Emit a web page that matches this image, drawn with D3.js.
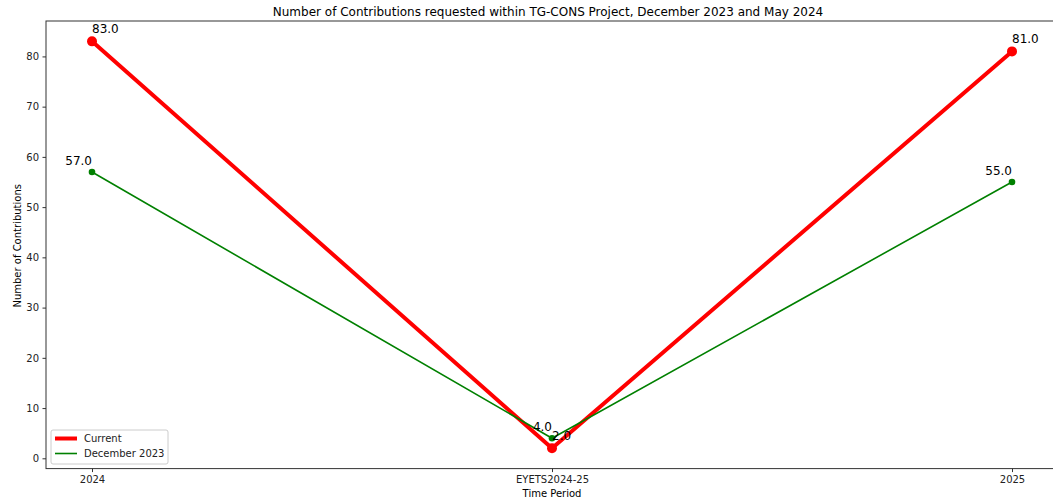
<!DOCTYPE html>
<html><head><meta charset="utf-8">
<script src="https://cdn.jsdelivr.net/npm/d3@7"></script>
<style>body{margin:0;background:#fff;} svg{display:block;font-family:"DejaVu Sans",sans-serif;}</style>
</head><body><svg id="c" width="1053" height="500"></svg>
<script>
const categories = ["2024", "EYETS2024-25", "2025"];
const currentValues = [83, 2, 81];
const dec2023Values = [57, 4, 55];
const yTicks = [0, 10, 20, 30, 40, 50, 60, 70, 80];
const seriesNames = ["Current", "December 2023"];
const titleText = "Number of Contributions requested within TG-CONS Project, December 2023 and May 2024";

const svg = d3.select("#c");
const L = 46, R = 1058, T = 21, B = 468.6;
const x = d3.scaleLinear().domain([-0.1, 2.1]).range([L, R]);
const y = d3.scaleLinear().domain([-2.05, 87.05]).range([B, T]);

// frame
svg.append("rect").attr("x", L).attr("y", T).attr("width", R - L).attr("height", B - T)
  .attr("fill", "none").attr("stroke", "#333").attr("stroke-width", 1);

// axes
const xAxis = d3.axisBottom(x).tickValues([0,1,2]).tickFormat(i => categories[i]).tickSize(3.5).tickPadding(3.5);
const gx = svg.append("g").attr("transform", `translate(0,${B})`).call(xAxis);
const yAxis = d3.axisLeft(y).tickValues(yTicks).tickSize(3.5).tickPadding(3.5);
const gy = svg.append("g").attr("transform", `translate(${L},0)`).call(yAxis);
[gx, gy].forEach(g => {
  g.select(".domain").remove();
  g.selectAll("text").attr("font-size", 10).attr("fill", "#222").attr("font-family", "DejaVu Sans");
  g.selectAll("line").attr("stroke", "#333");
});

// title and labels
svg.append("text").attr("x", (L + R) / 2 - 4).attr("y", 16).attr("text-anchor", "middle")
  .attr("font-size", 12).attr("fill", "#000").text(titleText);
svg.append("text").attr("x", x(1)).attr("y", 497).attr("text-anchor", "middle")
  .attr("font-size", 10).attr("fill", "#000").text("Time Period");
svg.append("text").attr("transform", `translate(20.5,${(T + B) / 2 + 1}) rotate(-90)`).attr("text-anchor", "middle")
  .attr("font-size", 10).attr("fill", "#000").text("Number of Contributions");

const line = d3.line().x((d, i) => x(i)).y(d => y(d));

function drawSeries(vals, color, lw, r) {
  svg.append("path").datum(vals).attr("d", line).attr("fill", "none")
    .attr("stroke", color).attr("stroke-width", lw).attr("stroke-linejoin", "round");
  svg.selectAll(null).data(vals).enter().append("circle")
    .attr("cx", (d, i) => x(i)).attr("cy", d => y(d)).attr("r", r).attr("fill", color);
}
drawSeries(currentValues, "#ff0000", 4, 5);
drawSeries(dec2023Values, "#008000", 1.6, 3.3);

// annotations
const anchorsCur = ["start", "start", "start"];
const anchorsDec = ["end", "end", "end"];
currentValues.forEach((v, i) => {
  svg.append("text").attr("x", x(i)).attr("y", y(v) - 8).attr("text-anchor", anchorsCur[i])
    .attr("font-size", 12).attr("fill", "#000").text(v.toFixed(1));
});
dec2023Values.forEach((v, i) => {
  svg.append("text").attr("x", x(i)).attr("y", y(v) - 7).attr("text-anchor", anchorsDec[i])
    .attr("font-size", 12).attr("fill", "#000").text(v.toFixed(1));
});

// legend
const lg = svg.append("g").attr("transform", "translate(51,430)");
lg.append("rect").attr("width", 117).attr("height", 34).attr("rx", 2).attr("fill", "#fff")
  .attr("fill-opacity", 0.8).attr("stroke", "#ccc");
const legendItems = [{n: seriesNames[0], c: "#ff0000", w: 4}, {n: seriesNames[1], c: "#008000", w: 1.6}];
legendItems.forEach((d, i) => {
  const yy = 8.5 + i * 15;
  lg.append("line").attr("x1", 4).attr("x2", 26).attr("y1", yy).attr("y2", yy)
    .attr("stroke", d.c).attr("stroke-width", d.w);
  lg.append("text").attr("x", 33).attr("y", yy + 3.5).attr("font-size", 10).attr("fill", "#222").text(d.n);
});
</script></body></html>
